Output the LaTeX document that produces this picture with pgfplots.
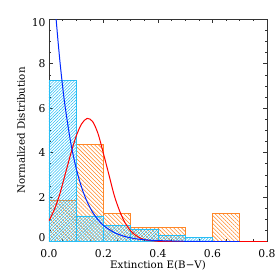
\documentclass[border=0pt]{standalone}
\usepackage{fontspec}
\setmainfont{DejaVu Serif}
\usepackage{pgfplots}
\pgfplotsset{compat=1.18}
\usetikzlibrary{patterns.meta}
\definecolor{cyanc}{RGB}{40,190,245}
\definecolor{orangec}{RGB}{255,135,40}
\definecolor{bluec}{RGB}{0,40,255}
\definecolor{redc}{RGB}{255,0,0}
\begin{document}
\begin{tikzpicture}
\begin{axis}[
  at={(0,0)}, anchor=south west,
  scale only axis, width=218bp, height=222.2bp,
  xmin=0, xmax=0.8, ymin=0, ymax=10,
  font=\fontsize{10.3}{12}\selectfont,
  ticklabel style={font=\fontsize{10.8}{12}\selectfont},
  /pgf/number format/assume math mode=true,
  xtick={0,0.2,0.4,0.6,0.8},
  xticklabels={0.0,0.2,0.4,0.6,0.8},
  ytick={0,2,4,6,8,10},
  yticklabels={\raisebox{0.5bp}[0pt][0pt]{0},2,4,6,8,\raisebox{-7.5bp}[0pt][0pt]{10}},
  minor x tick num=3, minor y tick num=3,
  tick align=inside,
  major tick length=4bp, minor tick length=2bp,
  every tick/.style={black!80, line width=0.5pt},
  axis line style={black!80, line width=0.6pt},
  xticklabel style={yshift=-4.5bp},
  xlabel={Extinction E(B−V)},
  ylabel={Normalized Distribution},
  every axis x label/.style={at={(axis description cs:0.5,0)}, anchor=center, yshift=-23.5bp},
  every axis y label/.style={at={(axis description cs:0,0.5)}, anchor=center, xshift=-28bp, rotate=90},
  clip=true,
]
% orange histogram
\addplot[ybar interval, draw=orangec, line width=0.6pt,
  pattern={Lines[angle=-45,distance=2.8bp,line width=0.55bp]}, pattern color=orangec]
  coordinates {(0,1.875) (0.1,4.375) (0.2,1.25) (0.3,0.625) (0.4,0.625) (0.5,0) (0.6,1.25) (0.7,0)};
% cyan histogram
\addplot[ybar interval, draw=cyanc, line width=0.6pt,
  pattern={Lines[angle=45,distance=2.1bp,line width=0.55bp]}, pattern color=cyanc]
  coordinates {(0,7.25) (0.1,1.15) (0.2,0.72) (0.3,0.57) (0.4,0.26) (0.5,0.17) (0.6,0)};
% red curve
\addplot[redc, line width=1pt, smooth, mark=none] coordinates {
 (0.00,0.93) (0.02,1.45) (0.04,2.15) (0.06,3.05) (0.08,3.95) (0.10,4.75)
 (0.12,5.30) (0.14,5.54) (0.16,5.40) (0.18,4.85) (0.20,3.95) (0.22,3.00)
 (0.24,2.05) (0.26,1.35) (0.28,0.82) (0.30,0.48) (0.32,0.26) (0.34,0.13)
 (0.36,0.06) (0.40,0.01) (0.45,0) (0.60,0) (0.80,0)};
% blue curve
\addplot[bluec, line width=1pt, smooth, mark=none] coordinates {
 (0.01,12.7) (0.02,10.95) (0.03,9.45) (0.04,8.12) (0.05,6.98) (0.06,6.00)
 (0.08,4.43) (0.10,3.28) (0.12,2.42) (0.14,1.79) (0.16,1.32) (0.18,0.98)
 (0.20,0.72) (0.24,0.40) (0.28,0.22) (0.32,0.12) (0.36,0.07) (0.40,0.04)
 (0.50,0.01) (0.60,0.00) (0.70,0.00)};
\end{axis}
\pgfresetboundingbox
\path[use as bounding box] (-49bp,-38.5bp) rectangle (231bp,241.5bp);
\end{tikzpicture}
\end{document}
